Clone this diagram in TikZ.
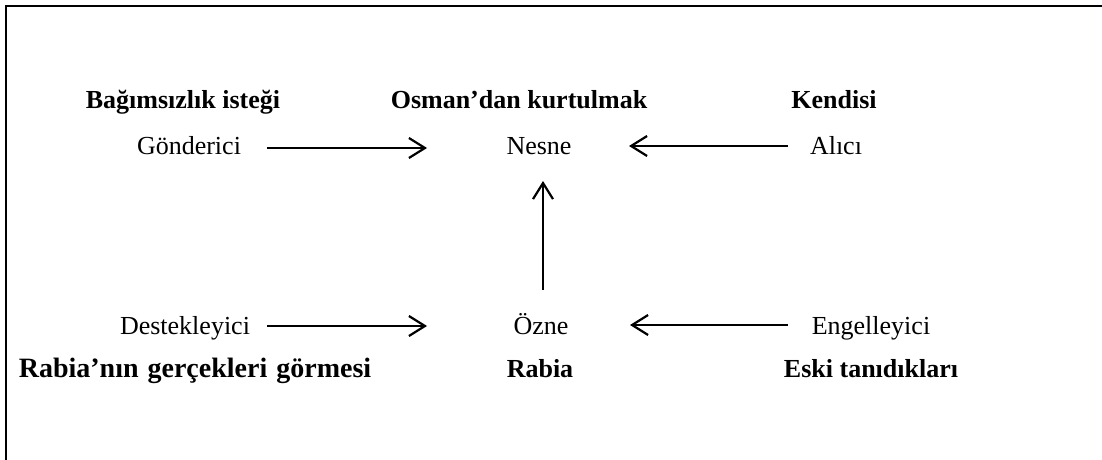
\documentclass[tikz,border=0pt]{standalone}
\usepackage{fontspec}
\setmainfont{Liberation Serif}
\usetikzlibrary{arrows.meta}
\begin{document}
\begin{tikzpicture}[x=1pt,y=-1pt,
  role/.style={font=\fontsize{26}{30}\selectfont, inner sep=0pt, anchor=base},
  val/.style={font=\fontsize{26}{30}\selectfont\bfseries, inner sep=0pt, anchor=base},
  arr/.style={line width=2.2pt, -{Straight Barb[length=16pt,width=20pt,line width=2.2pt]}}]
\useasboundingbox (0,0) rectangle (1102,460);
\draw[line width=2.2pt] (6,460) -- (6,6) -- (1102,6);
% top row values
\node[val] (v1) at (183,108) {Bağımsızlık isteği};
\node[val] (v2) at (519,108) {Osman’dan kurtulmak};
\node[val] (v3) at (834,108) {Kendisi};
% top roles
\node[role] (gon) at (189,154) {Gönderici};
\node[role] (nes) at (539,154) {Nesne};
\node[role] (alc) at (836,154) {Alıcı};
% bottom roles
\node[role] (des) at (185,334) {Destekleyici};
\node[role] (ozn) at (541,334) {Özne};
\node[role] (eng) at (871,334) {Engelleyici};
% bottom values
\node[val, font=\fontsize{28}{32}\selectfont\bfseries] (w1) at (195,377) {Rabia’nın\hspace{9pt}gerçekleri\hspace{9pt}görmesi};
\node[val] (w2) at (540,377) {Rabia};
\node[val] (w3) at (871,377) {Eski tanıdıkları};
% arrow endpoints
\coordinate (a1s) at (267,148); \coordinate (a1e) at (427,148);
\coordinate (a2s) at (788,146); \coordinate (a2e) at (629,146);
\coordinate (a3s) at (543,290); \coordinate (a3e) at (543,181);
\coordinate (a4s) at (267,326); \coordinate (a4e) at (427,326);
\coordinate (a5s) at (788,325); \coordinate (a5e) at (630,325);
\draw[arr] (a1s) -- (a1e);
\draw[arr] (a2s) -- (a2e);
\draw[arr] (a3s) -- (a3e);
\draw[arr] (a4s) -- (a4e);
\draw[arr] (a5s) -- (a5e);
\end{tikzpicture}
\end{document}
